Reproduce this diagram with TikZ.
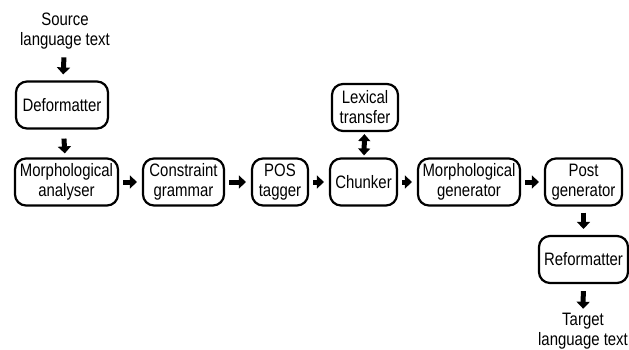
\documentclass[tikz,border=0pt]{standalone}
\usepackage{fontspec}
\setmainfont{Liberation Sans}[FakeStretch=0.83]
\usetikzlibrary{arrows.meta}

\begin{document}
\begin{tikzpicture}[x=1pt,y=-1pt,
	font=\fontsize{18}{20}\selectfont,
	box/.style={draw,line width=2.2pt,rounded corners=11pt,align=center,
		inner sep=1pt,minimum height=47pt},
	lbl/.style={align=center,inner sep=1pt},
	flow/.style={line width=5pt,-{Triangle[length=7pt,width=13pt]},
		shorten <=4pt,shorten >=5pt},
	both/.style={line width=5pt,{Triangle[length=7pt,width=12pt]}-{Triangle[length=7pt,width=12pt]}}]
	\useasboundingbox (0,0) rectangle (629,349);
	\node[lbl] (src) at (65,31) {Source\\language text};
	\node[box,minimum width=92pt] (deform) at (62,105) {Deformatter};
	\node[box,minimum width=103pt] (manal) at (66.5,182) {Morphological\\analyser};
	\node[box,minimum width=81pt] (cg) at (183.5,182) {Constraint\\grammar};
	\node[box,minimum width=56pt] (pos) at (280,182) {POS\\tagger};
	\node[box,minimum width=67pt] (chunk) at (363.5,182) {Chunker};
	\node[box,minimum width=66pt] (lex) at (365,107.5) {Lexical\\transfer};
	\node[box,minimum width=102pt] (mgen) at (469,182) {Morphological\\generator};
	\node[box,minimum width=77pt] (post) at (583.5,182) {Post\\generator};
	\node[box,minimum width=89pt] (reform) at (583.5,259.5) {Reformatter};
	\node[lbl] (tgt) at (583,331) {Target\\language text};
	% pipeline
	\draw[flow,shorten <=7pt,shorten >=6pt] (src) -- (deform);
	\draw[flow,shorten <=9pt,shorten >=4pt] (deform) -- (manal);
	\draw[flow] (manal) -- (cg);
	\draw[flow] (cg) -- (pos);
	\draw[flow] (pos) -- (chunk);
	\draw[flow] (chunk) -- (mgen);
	\draw[flow] (mgen) -- (post);
	\draw[flow,shorten <=6pt,shorten >=6pt] (post) -- (reform);
	\draw[flow,shorten <=7pt,shorten >=3pt] (reform) -- (tgt);
	\draw[both,shorten <=2pt,shorten >=2pt] (chunk) -- (lex);
\end{tikzpicture}
\end{document}
